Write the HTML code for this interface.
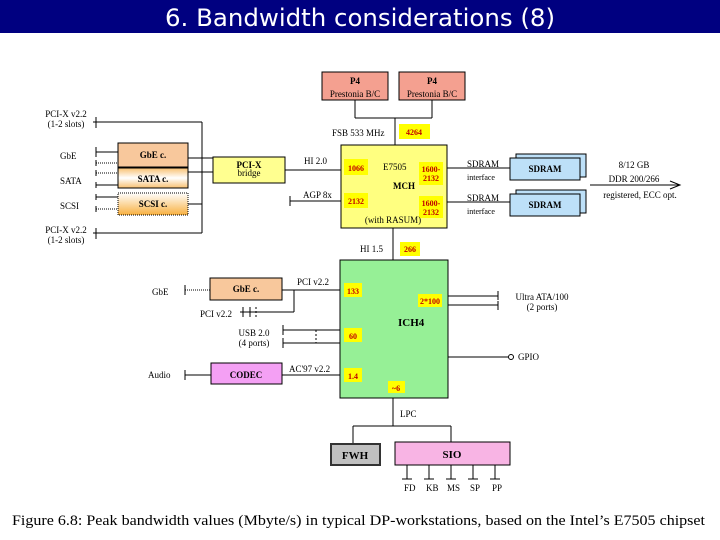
<!DOCTYPE html>
<html><head><meta charset="utf-8"><style>
body{margin:0;width:720px;height:540px;background:#fff;overflow:hidden}
svg{display:block}
text{font-family:"Liberation Serif",serif;font-size:9px;fill:#000}
.b{font-weight:bold}
.r{fill:#c00000;font-weight:bold;font-size:8px}
</style></head><body>
<svg width="720" height="540" viewBox="0 0 720 540">
<defs>
<linearGradient id="g1" x1="0" y1="0" x2="0" y2="1"><stop offset="0" stop-color="#f8c070"/><stop offset="0.5" stop-color="#fff"/><stop offset="1" stop-color="#f8c070"/></linearGradient>
<linearGradient id="g2" x1="0" y1="0" x2="0" y2="1"><stop offset="0" stop-color="#fff"/><stop offset="1" stop-color="#f8b040"/></linearGradient>
</defs>
<rect x="0" y="0" width="720" height="33" fill="#000080"/>
<text x="360" y="26" text-anchor="middle" style="font-family:'DejaVu Sans',sans-serif;font-size:24px;fill:#fff" textLength="390" lengthAdjust="spacingAndGlyphs">6. Bandwidth considerations (8)</text>
<g stroke="#000" stroke-width="1" fill="none">
<line x1="355" y1="100" x2="355" y2="118"/><line x1="355" y1="118" x2="432" y2="118"/><line x1="432" y1="100" x2="432" y2="118"/>
<line x1="395" y1="118" x2="395" y2="145"/>
<line x1="93" y1="122" x2="202" y2="122"/><line x1="93" y1="233" x2="202" y2="233"/>
<line x1="202" y1="122" x2="202" y2="233"/>
<line x1="188" y1="158" x2="213" y2="158"/><line x1="188" y1="172" x2="213" y2="172"/><line x1="188" y1="204" x2="202" y2="204"/>
<line x1="96" y1="117" x2="96" y2="128"/><line x1="96" y1="228" x2="96" y2="239"/>
<line x1="96" y1="147" x2="96" y2="157"/><line x1="96" y1="152" x2="118" y2="152"/>
<line x1="96" y1="160" x2="96" y2="166"/><line x1="96" y1="163" x2="118" y2="163" stroke-dasharray="1,1"/>
<line x1="96" y1="170" x2="96" y2="176"/><line x1="96" y1="173" x2="118" y2="173" stroke-dasharray="1,1"/>
<line x1="96" y1="182" x2="96" y2="188"/><line x1="96" y1="185" x2="118" y2="185"/>
<line x1="96" y1="194" x2="96" y2="200"/><line x1="96" y1="197" x2="118" y2="197"/>
<line x1="96" y1="206" x2="96" y2="212"/><line x1="96" y1="209" x2="118" y2="209" stroke-dasharray="1,1"/>
<line x1="285" y1="170" x2="341" y2="170"/>
<line x1="290" y1="201" x2="341" y2="201"/><line x1="290" y1="196" x2="290" y2="206"/>
<line x1="447" y1="168" x2="510" y2="168"/><line x1="447" y1="202" x2="510" y2="202"/>
<line x1="590" y1="185" x2="680" y2="185"/>
<polyline points="670,181 680,185 670,189"/>
<line x1="393" y1="228" x2="393" y2="260"/>
<line x1="282" y1="290" x2="340" y2="290"/><line x1="294" y1="290" x2="294" y2="312"/><line x1="240" y1="312" x2="294" y2="312"/>
<line x1="243" y1="307" x2="243" y2="317"/><line x1="250" y1="307" x2="250" y2="317"/><line x1="256" y1="307" x2="256" y2="317" stroke-dasharray="2,2"/>
<line x1="185" y1="290" x2="210" y2="290" stroke-dasharray="1,1"/><line x1="185" y1="285" x2="185" y2="295"/>
<line x1="283" y1="330" x2="340" y2="330"/><line x1="283" y1="343" x2="340" y2="343"/>
<line x1="283" y1="325" x2="283" y2="335"/><line x1="283" y1="338" x2="283" y2="348"/>
<line x1="316" y1="330" x2="316" y2="343" stroke-dasharray="2,2"/>
<line x1="185" y1="375" x2="211" y2="375"/><line x1="185" y1="370" x2="185" y2="380"/>
<line x1="282" y1="375" x2="340" y2="375"/>
<line x1="448" y1="296" x2="498" y2="296"/><line x1="448" y1="305" x2="498" y2="305"/>
<line x1="498" y1="291" x2="498" y2="300"/><line x1="498" y1="301" x2="498" y2="310"/>
<line x1="448" y1="357" x2="508" y2="357"/><circle cx="511" cy="357" r="2.5"/>
<line x1="393" y1="398" x2="393" y2="426"/><line x1="353" y1="426" x2="451" y2="426"/>
<line x1="353" y1="426" x2="353" y2="443"/><line x1="451" y1="426" x2="451" y2="442"/>
<line x1="407" y1="465" x2="407" y2="479"/><line x1="402" y1="479" x2="412" y2="479"/>
<line x1="429" y1="465" x2="429" y2="479"/><line x1="424" y1="479" x2="434" y2="479"/>
<line x1="451" y1="465" x2="451" y2="479"/><line x1="446" y1="479" x2="456" y2="479"/>
<line x1="473" y1="465" x2="473" y2="479"/><line x1="468" y1="479" x2="478" y2="479"/>
<line x1="495" y1="465" x2="495" y2="479"/><line x1="490" y1="479" x2="500" y2="479"/>
</g>
<rect x="322" y="72" width="66" height="28" fill="#f4a090" stroke="#000"/>
<rect x="399" y="72" width="66" height="28" fill="#f4a090" stroke="#000"/>
<text x="355" y="84" text-anchor="middle" class="b">P4</text><text x="355" y="97" text-anchor="middle">Prestonia B/C</text>
<text x="432" y="84" text-anchor="middle" class="b">P4</text><text x="432" y="97" text-anchor="middle">Prestonia B/C</text>
<rect x="341" y="145" width="106" height="83" fill="#ffff80" stroke="#000"/>
<rect x="118" y="143" width="70" height="24" fill="#f8c89c" stroke="#000"/>
<rect x="118" y="168" width="70" height="20" fill="url(#g1)" stroke="#000"/>
<rect x="118" y="193" width="70" height="22" fill="url(#g2)" stroke="#000" stroke-dasharray="1,1"/>
<rect x="213" y="157" width="72" height="26" fill="#ffff90" stroke="#000"/>
<rect x="516" y="154" width="70" height="23" fill="#bde0f8" stroke="#000"/>
<rect x="510" y="158" width="70" height="22" fill="#bde0f8" stroke="#000"/>
<rect x="516" y="190" width="70" height="23" fill="#bde0f8" stroke="#000"/>
<rect x="510" y="194" width="70" height="22" fill="#bde0f8" stroke="#000"/>
<rect x="340" y="260" width="108" height="138" fill="#96f096" stroke="#000"/>
<rect x="210" y="278" width="72" height="22" fill="#f8c89c" stroke="#000"/>
<rect x="211" y="363" width="71" height="21" fill="#f4a0f4" stroke="#000"/>
<rect x="331" y="444" width="49" height="21" fill="#c0c0c0" stroke="#333" stroke-width="2"/>
<rect x="395" y="442" width="115" height="23" fill="#f8b4e4" stroke="#000"/>
<g fill="#ffff00">
<rect x="399" y="124" width="31" height="15"/><rect x="344" y="159" width="24" height="16"/><rect x="419" y="162" width="24" height="23"/>
<rect x="344" y="193" width="24" height="15"/><rect x="419" y="196" width="24" height="22"/><rect x="400" y="242" width="20" height="14"/>
<rect x="344" y="283" width="18" height="14"/><rect x="418" y="294" width="24" height="13"/><rect x="344" y="328" width="18" height="14"/>
<rect x="344" y="368" width="18" height="14"/><rect x="388" y="381" width="17" height="12"/>
</g>
<text x="414" y="135" text-anchor="middle" class="r">4264</text>
<text x="356" y="171" text-anchor="middle" class="r">1066</text>
<text x="431" y="172" text-anchor="middle" class="r">1600-</text><text x="431" y="181" text-anchor="middle" class="r">2132</text>
<text x="356" y="204" text-anchor="middle" class="r">2132</text>
<text x="431" y="206" text-anchor="middle" class="r">1600-</text><text x="431" y="215" text-anchor="middle" class="r">2132</text>
<text x="410" y="252" text-anchor="middle" class="r">266</text>
<text x="353" y="294" text-anchor="middle" class="r">133</text>
<text x="430" y="304" text-anchor="middle" class="r">2*100</text>
<text x="353" y="339" text-anchor="middle" class="r">60</text>
<text x="353" y="379" text-anchor="middle" class="r">1.4</text>
<text x="396" y="391" text-anchor="middle" class="r">~6</text>
<text x="332" y="136">FSB 533 MHz</text>
<text x="383" y="170">E7505</text>
<text x="393" y="189" class="b">MCH</text>
<text x="393" y="223" text-anchor="middle">(with RASUM)</text>
<text x="153" y="158" text-anchor="middle" class="b">GbE c.</text>
<text x="153" y="182" text-anchor="middle" class="b">SATA c.</text>
<text x="153" y="207" text-anchor="middle" class="b">SCSI c.</text>
<text x="249" y="168" text-anchor="middle" class="b">PCI-X</text><text x="249" y="176" text-anchor="middle">bridge</text>
<text x="66" y="117" text-anchor="middle">PCI-X v2.2</text><text x="66" y="127" text-anchor="middle">(1-2 slots)</text>
<text x="66" y="233" text-anchor="middle">PCI-X v2.2</text><text x="66" y="243" text-anchor="middle">(1-2 slots)</text>
<text x="60" y="159">GbE</text><text x="60" y="184">SATA</text><text x="60" y="209">SCSI</text>
<text x="304" y="164">HI 2.0</text><text x="303" y="198">AGP 8x</text>
<text x="467" y="167">SDRAM</text><text x="467" y="180" style="font-size:8px">interface</text>
<text x="467" y="201">SDRAM</text><text x="467" y="214" style="font-size:8px">interface</text>
<text x="545" y="172" text-anchor="middle" class="b">SDRAM</text>
<text x="545" y="208" text-anchor="middle" class="b">SDRAM</text>
<text x="634" y="168" text-anchor="middle">8/12 GB</text>
<text x="634" y="182" text-anchor="middle">DDR 200/266</text>
<text x="640" y="198" text-anchor="middle">registered, ECC opt.</text>
<text x="360" y="252">HI 1.5</text>
<text x="152" y="295">GbE</text>
<text x="246" y="292" text-anchor="middle" class="b">GbE c.</text>
<text x="297" y="285">PCI v2.2</text>
<text x="200" y="317">PCI v2.2</text>
<text x="398" y="326" class="b" style="font-size:11px">ICH4</text>
<text x="254" y="336" text-anchor="middle">USB 2.0</text><text x="254" y="346" text-anchor="middle">(4 ports)</text>
<text x="542" y="300" text-anchor="middle">Ultra ATA/100</text><text x="542" y="310" text-anchor="middle">(2 ports)</text>
<text x="518" y="360">GPIO</text>
<text x="148" y="378">Audio</text>
<text x="246" y="378" text-anchor="middle" class="b">CODEC</text>
<text x="289" y="372">AC'97 v2.2</text>
<text x="400" y="417">LPC</text>
<text x="355" y="459" text-anchor="middle" class="b" style="font-size:11px">FWH</text>
<text x="452" y="458" text-anchor="middle" class="b" style="font-size:11px">SIO</text>
<text x="404" y="491">FD</text><text x="426" y="491">KB</text><text x="447" y="491">MS</text><text x="470" y="491">SP</text><text x="492" y="491">PP</text>
<text x="12" y="525" style="font-size:15px" textLength="693" lengthAdjust="spacingAndGlyphs">Figure 6.8: Peak bandwidth values (Mbyte/s) in typical DP-workstations, based on the Intel’s E7505 chipset</text>
</svg>
</body></html>
